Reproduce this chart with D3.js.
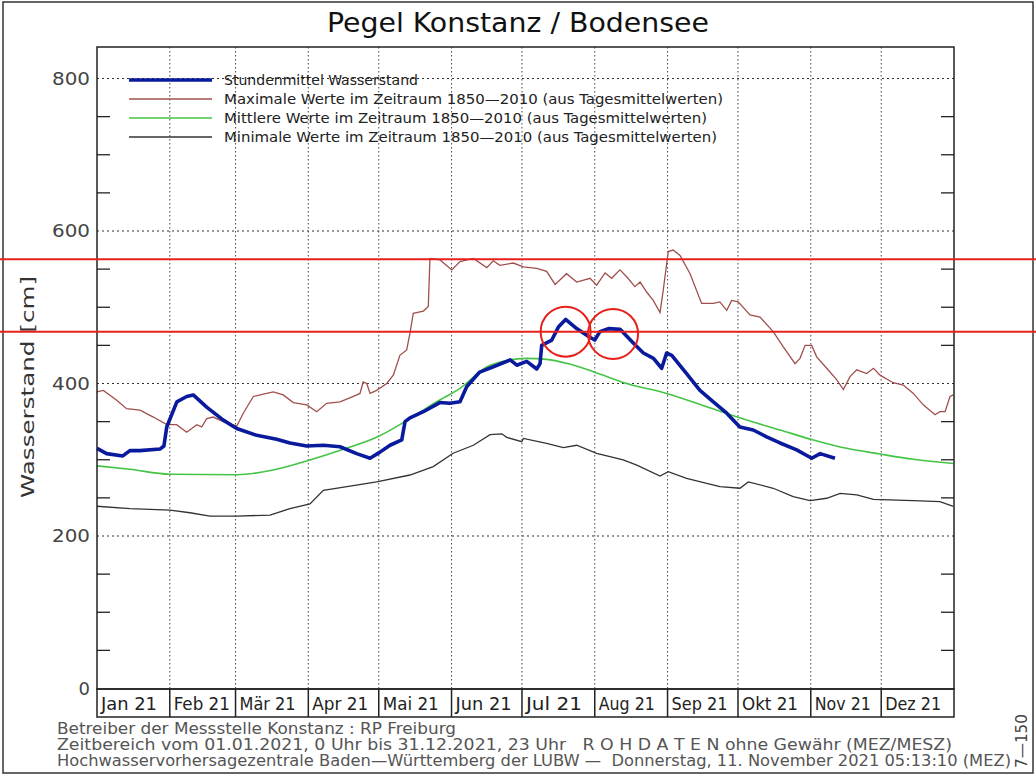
<!DOCTYPE html>
<html>
<head>
<meta charset="utf-8">
<script src="https://cdn.jsdelivr.net/npm/d3@7"></script>
<style>
  html, body { margin: 0; padding: 0; background: #fff; }
  svg { display: block; }
</style>
</head>
<body>
<div id="chart"></div>
<script>
// ---------------- DATA ----------------
const monthLabels = ["Jan 21","Feb 21","Mär 21","Apr 21","Mai 21","Jun 21","Jul 21","Aug 21","Sep 21","Okt 21","Nov 21","Dez 21"];
const yTicks = [0, 200, 400, 600, 800];
const yMinorTicks = [50,100,150,250,300,350,450,500,550,650,700,750];

// Stundenmittel Wasserstand 2021 (day of year, cm)
const waterDays = [0,4.1,11,14,18.3,26.8,28.5,29.7,34,38.2,41,46.7,53.8,59.5,68,76.5,82.2,89.3,96.4,103.5,110.6,116.3,120.5,124.8,129.8,131.2,133.3,139,146,150.3,154.6,157.5,163,168.8,176,178.8,183,187.3,188.7,189.4,193.7,196.5,199.6,204.3,209.2,212,214.2,217.8,222.8,228.4,232.7,237,240.5,242.6,244.8,251.1,256.8,262.5,268.2,273.8,279.5,285.2,290.9,298,304.4,308,314.3];
const waterVals = [315,308,305,312,312,314,318,343,376,383,385,369,352,341,332,327,322,318,319,317,308,302,310,319,326,350,355,363,375,374,376,396,415,422,431,424,429,419,426,450,457,474,484,472,462,457,468,472,471,453,440,433,420,440,437,413,391,376,361,343,339,330,322,313,302,308,302];

// Maximale Werte 1850-2010
const maxDays = [0,2.7,8.4,12.6,18.3,24,29.7,33.9,38.2,42.5,44.6,46.7,49.5,53.8,59.5,62.3,66.6,70.8,75.1,79.3,83.6,89.3,93.6,97.8,103.5,109.2,112,113.4,114.9,116.3,119.1,123.4,126.2,129,131.9,133.3,134.7,139,141.1,141.8,146.1,151.1,154.6,160.3,166,168.8,171.6,177.3,181.6,187.3,191.5,195.1,200,204.3,210,212.8,216.4,219.2,222.7,225.6,229.1,231.3,234.1,236.9,239.8,241.2,243.3,245.4,248.3,252.6,257.5,262.5,265.3,268.2,270.3,273.1,278.1,282.4,288,292.3,297.3,299.4,301.6,304.4,306.5,310.8,315,317.9,320.7,323.6,327.8,330.7,333.5,339.1,343.4,347.7,351.9,356.9,359,361.2,363.3,364.7];
const maxVals = [389,391,378,367,365,356,346,346,336,346,343,354,356,350,344,361,383,386,389,385,375,372,363,374,376,383,387,402,400,387,391,400,411,437,444,466,492,495,501,564,562,549,560,564,552,561,555,558,553,551,547,530,544,533,538,529,545,538,549,540,527,533,520,509,493,523,573,575,568,544,505,505,507,496,509,507,490,487,468,448,426,433,450,450,435,420,405,392,409,418,413,420,411,401,398,387,372,359,363,363,383,385];

// Mittlere Werte 1850-2010
const meanDays = [0,14,31.1,59.5,76.5,90.7,104.9,119.1,133.3,144.7,154.6,167.4,183,191.5,200,211.4,225.6,242.6,259.7,276.7,290.9,305.1,319.3,333.5,347.7,364.7];
const meanVals = [292,287.5,281,280.4,287.5,299.7,313.7,329.4,354,376,393.7,424,433,431.7,426.5,415.5,400,387,369.6,352,339,326,315,307.5,300.6,295];

// Minimale Werte 1850-2010
const minDays = [0,14,31.1,39.6,48.1,59.5,73.7,82.2,90.7,96.4,107.8,119.1,133.3,143.2,151.7,160.3,167.4,172.4,174.5,180.9,181.6,191.5,198.6,204.3,212.8,224.1,229.9,239.8,243.3,251.1,265.3,273.8,277.4,288,296.5,303.7,310.8,316.5,323.6,330.7,347.7,359,364.7];
const minVals = [239,236,234,230.5,226,226,227.5,236,242,260,265.5,271,280,291,308.5,319,333,334,329.4,323.7,328,321.6,316,319,308.5,299.7,293,278.7,284.3,275.7,264.7,262.6,271,262.6,251.6,246.4,249.5,256,253.8,248,246.4,245,239];

const legendLabels = [
  "Stundenmittel Wasserstand",
  "Maximale Werte im Zeitraum 1850\u20142010 (aus Tagesmittelwerten)",
  "Mittlere Werte im Zeitraum 1850\u20142010 (aus Tagesmittelwerten)",
  "Minimale Werte im Zeitraum 1850\u20142010 (aus Tagesmittelwerten)"
];
const footerLines = [
  "Betreiber der Messstelle Konstanz : RP Freiburg",
  "Zeitbereich vom 01.01.2021, 0 Uhr bis 31.12.2021, 23 Uhr   R O H D A T E N ohne Gewähr (MEZ/MESZ)",
  "Hochwasservorhersagezentrale Baden\u2014Württemberg der LUBW \u2014  Donnerstag, 11. November 2021 05:13:10 (MEZ)"
];
// annotation marks (red) in data units
const markLevels = [563, 468];
const markCircleDays = [199.6, 219.8];
const markCircleVals = [468, 465];

// ---------------- LAYOUT ----------------
const W = 1036, H = 776;
const plot = {left: 97, right: 954, top: 47, bottom: 689};
const band = {top: 689, bottom: 717};
const FONT = "'DejaVu Sans Condensed','Liberation Sans Narrow','DejaVu Sans',sans-serif";
const FONT_N = "'DejaVu Sans',sans-serif";

const svg = d3.select("#chart").append("svg").attr("width", W).attr("height", H);

const x = d3.scaleLinear().domain([0, 365]).range([plot.left, plot.right]);
const y = d3.scaleLinear().domain([0, 800]).range([688.5, 78.5]);

const yearStart = new Date(Date.UTC(2021,0,1));
const monthStarts = d3.utcMonths(yearStart, new Date(Date.UTC(2022,0,1))).map(d => d3.utcDay.count(yearStart, d));

// outer frame
svg.append("rect").attr("x", 3).attr("y", 2).attr("width", 1030).attr("height", 771)
  .attr("fill", "none").attr("stroke", "#333").attr("stroke-width", 1.5);

// title
svg.append("text").attr("x", 518).attr("y", 32).attr("text-anchor", "middle")
  .attr("font-family", FONT).attr("font-size", 27).attr("font-weight", 200).attr("fill", "#111")
  .attr("textLength", 382).attr("lengthAdjust", "spacingAndGlyphs")
  .text("Pegel Konstanz / Bodensee");

// grid: horizontal dotted
svg.append("g").selectAll("line").data(yTicks.filter(v => v > 0)).join("line")
  .attr("x1", plot.left).attr("x2", plot.right)
  .attr("y1", d => y(d)).attr("y2", d => y(d))
  .attr("stroke", "#333").attr("stroke-width", 1.2).attr("stroke-dasharray", "2,3");
// grid: vertical dotted at month starts
svg.append("g").selectAll("line").data(monthStarts.slice(1)).join("line")
  .attr("x1", d => x(d)).attr("x2", d => x(d))
  .attr("y1", plot.top).attr("y2", plot.bottom)
  .attr("stroke", "#555").attr("stroke-width", 1.1).attr("stroke-dasharray", "1.5,2.5");

// minor ticks both sides
const mt = svg.append("g").attr("stroke", "#222").attr("stroke-width", 1.3);
mt.selectAll("line.l").data(yMinorTicks).join("line").attr("class","l")
  .attr("x1", plot.left).attr("x2", plot.left + 13).attr("y1", d => y(d)).attr("y2", d => y(d));
mt.selectAll("line.r").data(yMinorTicks).join("line").attr("class","r")
  .attr("x1", plot.right - 13).attr("x2", plot.right).attr("y1", d => y(d)).attr("y2", d => y(d));

// y tick labels
svg.append("g").selectAll("text").data(yTicks).join("text")
  .attr("x", 90).attr("y", d => y(d) + 6).attr("text-anchor", "end")
  .attr("font-family", FONT_N).attr("font-size", 18).attr("fill", "#444")
  .each(function(d) { if (d > 0) d3.select(this).attr("textLength", 38).attr("lengthAdjust", "spacingAndGlyphs"); })
  .text(d => d);

// y label
svg.append("text").attr("transform", "translate(34,387) rotate(-90)")
  .attr("text-anchor", "middle").attr("font-family", FONT_N).attr("font-size", 17).attr("fill", "#333")
  .attr("textLength", 222).attr("lengthAdjust", "spacingAndGlyphs")
  .text("Wasserstand [cm]");

// lines
const zip = (a, b) => a.map((v, i) => [v, b[i]]);
const line = d3.line().x(d => x(d[0])).y(d => y(d[1]));
const smooth = d3.line().x(d => x(d[0])).y(d => y(d[1])).curve(d3.curveMonotoneX);
svg.append("path").datum(zip(minDays, minVals)).attr("d", line)
  .attr("fill", "none").attr("stroke", "#333").attr("stroke-width", 1.3);
svg.append("path").datum(zip(meanDays, meanVals)).attr("d", smooth)
  .attr("fill", "none").attr("stroke", "#44c444").attr("stroke-width", 1.6);
svg.append("path").datum(zip(maxDays, maxVals)).attr("d", line)
  .attr("fill", "none").attr("stroke", "#a0504c").attr("stroke-width", 1.3);
svg.append("path").datum(zip(waterDays, waterVals)).attr("d", line)
  .attr("fill", "none").attr("stroke", "#0a1a9c").attr("stroke-width", 3.6).attr("stroke-linejoin", "round");

// legend
const legColors = ["#0a1a9c", "#a0504c", "#44c444", "#333"];
const legWidths = [3.6, 1.3, 1.6, 1.3];
const legLens = [194, 499, 483, 493];
const legY = [80, 99, 118, 137];
const lg = svg.append("g");
legendLabels.forEach((t, i) => {
  lg.append("line").attr("x1", 129).attr("x2", 212).attr("y1", legY[i]).attr("y2", legY[i])
    .attr("stroke", legColors[i]).attr("stroke-width", legWidths[i]);
  lg.append("text").attr("x", 224).attr("y", legY[i] + 5)
    .attr("font-family", FONT).attr("font-size", 14.5).attr("fill", "#222")
    .attr("textLength", legLens[i]).attr("lengthAdjust", "spacingAndGlyphs").text(t);
});

// plot frame
svg.append("rect").attr("x", plot.left).attr("y", plot.top)
  .attr("width", plot.right - plot.left).attr("height", plot.bottom - plot.top)
  .attr("fill", "none").attr("stroke", "#222").attr("stroke-width", 1.5);

// month band
svg.append("rect").attr("x", plot.left).attr("y", band.top)
  .attr("width", plot.right - plot.left).attr("height", band.bottom - band.top)
  .attr("fill", "none").attr("stroke", "#222").attr("stroke-width", 1.5);
svg.append("g").selectAll("line").data(monthStarts.slice(1)).join("line")
  .attr("x1", d => x(d)).attr("x2", d => x(d)).attr("y1", band.top).attr("y2", band.bottom)
  .attr("stroke", "#222").attr("stroke-width", 1.5);
svg.append("g").selectAll("text").data(monthLabels).join("text")
  .attr("x", (d, i) => x(monthStarts[i]) + 4).attr("y", 710)
  .attr("font-family", FONT).attr("font-size", 18).attr("fill", "#222")
  .attr("textLength", 56).attr("lengthAdjust", "spacingAndGlyphs")
  .text(d => d);

// footer
const footLens = [399, 895, 954];
footerLines.forEach((t, i) => {
  svg.append("text").attr("x", 57).attr("y", 734 + i * 16)
    .attr("font-family", FONT).attr("font-size", 15).attr("fill", "#555")
    .attr("xml:space", "preserve").style("white-space", "pre")
    .attr("textLength", footLens[i]).attr("lengthAdjust", "spacingAndGlyphs").text(t);
});
svg.append("text").attr("transform", "translate(1027,768) rotate(-90)")
  .attr("font-family", FONT).attr("font-size", 15).attr("fill", "#444")
  .attr("textLength", 54).attr("lengthAdjust", "spacingAndGlyphs")
  .text("7\u2014150");

// red annotations
svg.append("g").selectAll("line").data(markLevels).join("line")
  .attr("x1", 0).attr("x2", W).attr("y1", d => y(d)).attr("y2", d => y(d))
  .attr("stroke", "#e8201c").attr("stroke-width", 2);
svg.append("g").selectAll("circle").data(zip(markCircleDays, markCircleVals)).join("circle")
  .attr("cx", d => x(d[0])).attr("cy", d => y(d[1])).attr("r", 25)
  .attr("fill", "none").attr("stroke", "#e8201c").attr("stroke-width", 2);
</script>
</body>
</html>
